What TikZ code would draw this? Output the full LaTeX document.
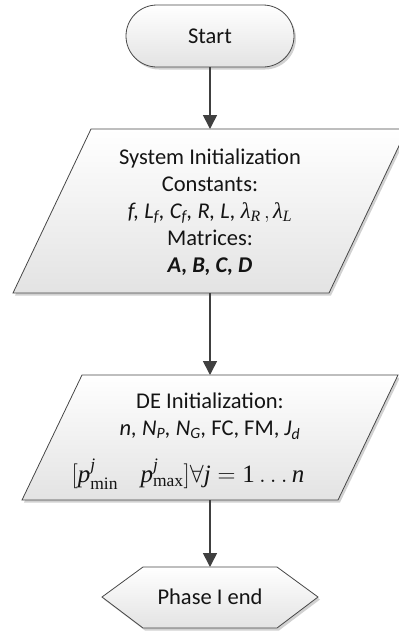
\documentclass[tikz,border=0pt]{standalone}
\usepackage{amsmath}
\usepackage{fontspec}
\setmainfont{Carlito}
\newfontfamily\tms{Liberation Serif}
\usetikzlibrary{arrows.meta,shadows}
\newcommand\trm[1]{\text{\tms #1}}
\newcommand\tit[1]{\text{\tms\itshape #1}}
\begin{document}
\begin{tikzpicture}[x=1pt,y=-1pt,
  box/.style={draw=black!72, line width=0.8pt, top color=white, bottom color=black!11,
    drop shadow={shadow xshift=2pt, shadow yshift=-2.5pt, fill=black!18, opacity=1}},
  lbl/.style={align=center, font=\fontsize{22.5}{27}\selectfont, inner sep=0pt, text=black!92},
  arr/.style={draw=black!75, line width=1.6pt, -{Triangle[width=14pt,length=14pt]}}]
\useasboundingbox (0,0) rectangle (399,633);
% Start
\path[box, rounded corners=31pt] (126,5) rectangle (294,67);
\node[lbl] (start) at (210,36) {Start};
\coordinate (startB) at (210,67);
% System initialization
\path[box] (91,129) -- (407,129) -- (329,293) -- (13,293) -- cycle;
\coordinate (sysT) at (210,129);
\coordinate (sysB) at (210,293);
\node[lbl] (sys) at (210,212) {System Initialization\\Constants:\\
  \textit{f, L\textsubscript{f}, C\textsubscript{f}, R, L,} $\tit{λ}_{\tit{R}}\,,\tit{λ}_{\tit{L}}$\\
  Matrices:\\ \textbf{\textit{A, B, C, D}}};
% DE initialization
\path[box] (82,375) -- (398,375) -- (338,500) -- (22,500) -- cycle;
\coordinate (deT) at (210,375);
\coordinate (deB) at (210,500);
\node[lbl] (de1) at (210,416) {DE Initialization:\\
  \textit{n, N\textsubscript{P}, N\textsubscript{G},} FC, FM, \textit{J\textsubscript{d}}};
\node[lbl, font=\fontsize{25}{30}\selectfont] (de2) at (188,474)
  {$[\tit{p}^{\tit{j}}_{\trm{min}}\hspace{0.9em}\tit{p}^{\tit{j}}_{\trm{max}}]\forall\tit{j}=\trm{1}\ldots\tit{n}$};
% Phase I end
\path[box] (102,597) -- (143,567) -- (277,567) -- (318,597) -- (277,628) -- (143,628) -- cycle;
\coordinate (endT) at (210,567);
\node[lbl] (end) at (210,597) {Phase I end};
% connectors
\draw[arr] (startB) -- (sysT);
\draw[arr] (sysB) -- (deT);
\draw[arr] (deB) -- (endT);
\end{tikzpicture}
\end{document}
